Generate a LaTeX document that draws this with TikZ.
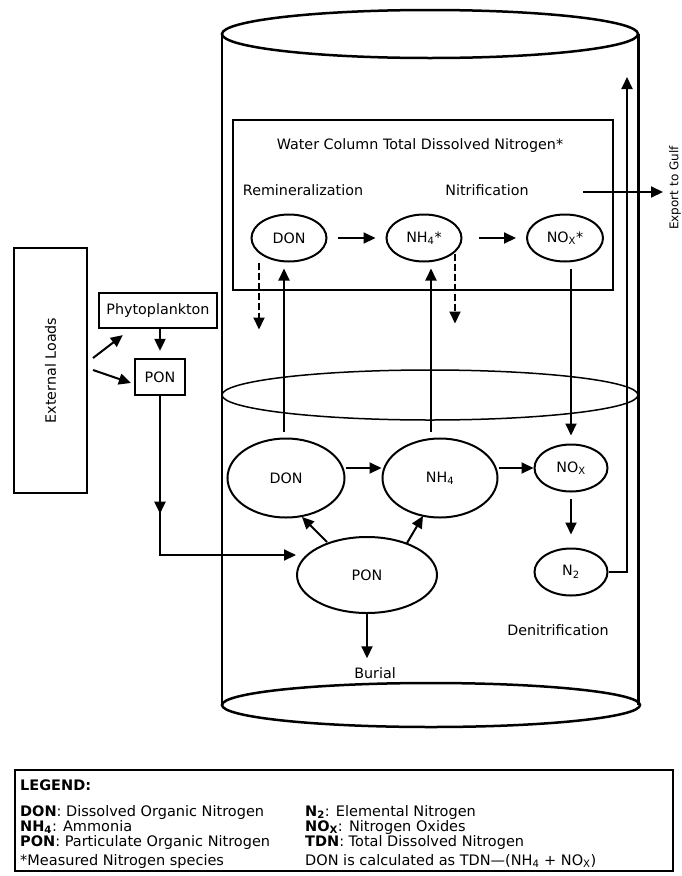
\documentclass[tikz,border=0pt]{standalone}
\usepackage{fontspec}
\setmainfont{DejaVu Sans}
\usetikzlibrary{arrows.meta,calc,shapes.geometric}
\begin{document}
\begin{tikzpicture}[x=1pt,y=-1pt,
  font=\fontsize{14.3}{16}\selectfont,
  arr/.style={line width=2pt,-{Triangle[length=12pt,width=11pt]}},
  darr/.style={arr,dash pattern=on 7pt off 3pt},
  oval/.style={ellipse,draw,line width=2pt,inner sep=0pt},
  sbox/.style={draw,line width=2.3pt,inner sep=0pt},
  lbl/.style={inner sep=0pt},
  leg/.style={inner sep=0pt,anchor=base west,font=\fontsize{14.5}{15}\selectfont}]
\useasboundingbox (0,0) rectangle (682,876);
% cylinder
\draw[line width=2.5pt] (222,34) -- (222,705);
\draw[line width=3pt] (638,34) -- (638,705);
\draw[line width=2.5pt] (430,34) ellipse [x radius=208pt,y radius=24pt];
\draw[line width=2.5pt] (431,705) ellipse [x radius=209pt,y radius=22pt];
\draw[line width=1.5pt] (430,395) ellipse [x radius=208pt,y radius=25pt];
% water column box
\draw[line width=1.3pt] (233,120) rectangle (613,290);
\node[lbl] (title) at (420,146) {Water Column Total Dissolved Nitrogen*};
\node[lbl] (remin) at (303,190) {Remineralization};
\node[lbl] (nitri) at (487,190) {Nitrification};
\node[oval,minimum width=75pt,minimum height=47pt] (iDON) at (289,238) {DON};
\node[oval,minimum width=75pt,minimum height=47pt] (iNH4) at (424,238) {NH\textsubscript{4}*};
\node[oval,minimum width=76pt,minimum height=47pt] (iNOX) at (565,238) {NO\textsubscript{X}*};
\draw[arr,shorten <=10pt,shorten >=10pt] (iDON.east) -- (iNH4.west);
\draw[arr,shorten <=16pt,shorten >=10pt] (iNH4.east) -- (iNOX.west);
\draw[darr] ($(iDON.south)+(-30,0)$) -- ++(0,67);
\draw[darr] ($(iNH4.south)+(31,-9)$) -- ++(0,70);
% export
\coordinate (exS) at (583,192);
\coordinate (exE) at (663,192);
\draw[arr] (exS) -- (exE);
\node[lbl,rotate=90,font=\fontsize{12}{13}\selectfont] (gulf) at (675,188) {Export to Gulf};
% lower nodes
\node[oval,minimum width=117pt,minimum height=79pt] (lDON) at (286,478) {DON};
\node[oval,minimum width=115pt,minimum height=79pt] (lNH4) at (440,478) {NH\textsubscript{4}};
\node[oval,minimum width=73pt,minimum height=47pt] (lNOX) at (571,468) {NO\textsubscript{X}};
\node[oval,minimum width=73pt,minimum height=47pt] (lN2) at (571,572) {N\textsubscript{2}};
\node[oval,minimum width=140pt,minimum height=76pt] (lPON) at (367,575) {PON};
\node[lbl] (burial) at (375,673) {Burial};
\node[lbl] (denit) at (558,630) {Denitrification};
\draw[arr] ($(lDON.north)+(-2,-6)$) -- ($(lDON.north |- iDON.south)+(-2,6)$);
\draw[arr] ($(lNH4.north)+(-9,-6)$) -- ($(lNH4.north |- iNH4.south)+(-9,6)$);
\draw[arr] ($(lNOX.north |- iNOX.south)+(0,6)$) -- ($(lNOX.north)+(0,-8)$);
\draw[arr] ($(lDON.east)+(0,-10)$) -- ($(lNH4.west)+(0,-10)$);
\draw[arr] ($(lNH4.east)+(0,-10)$) -- (lNOX.west);
\draw[arr,shorten <=6pt,shorten >=13pt] (lNOX) -- (lN2);
\coordinate (topA) at (627,77);
\draw[arr] (lN2.east) -| (topA);
\draw[arr] ($(lPON)+(-40,-33)$) -- ($(lDON)+(16,39)$);
\draw[arr] ($(lPON)+(40,-32)$) -- ($(lNH4)+(-17,38)$);
\draw[arr,shorten >=9pt] (lPON.south) -- (lPON.south |- burial.north);
% left side
\node[draw,line width=1.3pt,rotate=90,minimum width=245pt,minimum height=73pt,inner sep=0pt] (ext) at (50.5,370.5) {External Loads};
\node[sbox,minimum width=118pt,minimum height=35pt] (phyto) at (158,310.5) {Phytoplankton};
\node[sbox,minimum width=50pt,minimum height=36pt] (pbox) at (160,377) {PON};
\draw[arr] ($(ext)+(42.5,-12.5)$) -- ($(phyto.south west)+(25,6)$);
\draw[arr] ($(ext)+(42.5,-0.5)$) -- ($(pbox.west)+(-3,6)$);
\draw[arr,shorten >=7pt] (pbox.north |- phyto.south) -- (pbox.north);
\coordinate (bend) at (160,555);
\draw[arr] (pbox.south) -- ($(pbox.south)!0.74!(bend)$);
\draw[arr] (pbox.south) -- (bend) -- (bend -| lPON.west);
% legend
\node[draw,line width=2pt,minimum width=658pt,minimum height=101pt,anchor=north west,inner sep=0pt] (legend) at (14,769) {};
\node[leg] (lg0) at (20,790) {\textbf{LEGEND:}};
\node[leg] (lg1) at (20,816) {\textbf{DON}: Dissolved Organic Nitrogen};
\node[leg] (lg2) at (20,831) {\textbf{NH\textsubscript{4}}: Ammonia};
\node[leg] (lg3) at (20,846) {\textbf{PON}: Particulate Organic Nitrogen};
\node[leg] (lg4) at (20,865) {*Measured Nitrogen species};
\node[leg] (lg5) at (305,816) {\textbf{N\textsubscript{2}}: Elemental Nitrogen};
\node[leg] (lg6) at (305,831) {\textbf{NO\textsubscript{X}}: Nitrogen Oxides};
\node[leg] (lg7) at (305,846) {\textbf{TDN}: Total Dissolved Nitrogen};
\node[leg] (lg8) at (305,865) {DON is calculated as TDN—(NH\textsubscript{4} + NO\textsubscript{X})};
\end{tikzpicture}
\end{document}
